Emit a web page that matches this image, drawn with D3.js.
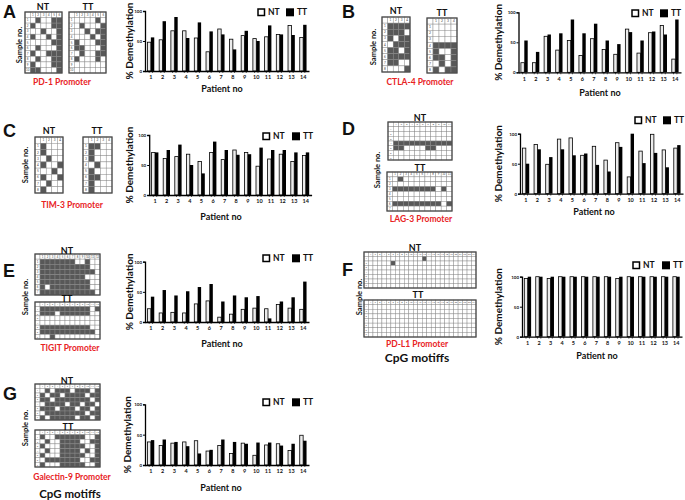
<!DOCTYPE html>
<html><head><meta charset="utf-8">
<script src="https://cdn.jsdelivr.net/npm/d3@7"></script>
<style>
body{margin:0;background:#fff}
svg{display:block}
text{font-family:Lato,'Open Sans',sans-serif;font-weight:bold;fill:#111}
</style>
</head><body>
<svg id="chart" width="685" height="500"></svg>
<script>
// ---------- DATA ----------
const patients = ["1","2","3","4","5","6","7","8","9","10","11","12","13","14"];
const yTicks = [0, 50, 100];
const seriesNames = ["NT", "TT"];

const pd1NT   = [48,52,67,67,55,32,70,53,59,54,57,61,76,56];
const pd1TT   = [56,83,90,55,81,66,61,36,67,50,76,61,60,77];
const ctla4NT = [16,16,60,37,53,28,56,38,30,72,32,66,78,22];
const ctla4TT = [53,34,63,65,88,65,81,53,47,67,53,68,63,88];
const tim3NT  = [71,61,64,68,56,71,59,75,71,48,60,68,56,66];
const tim3TT  = [71,75,84,50,36,89,75,67,68,79,75,75,71,71];
const lag3NT  = [76,82,49,91,93,64,79,56,85,28,71,99,73,76];
const lag3TT  = [50,74,61,74,64,67,48,37,78,100,51,68,44,81];
const tigitNT = [22,15,16,15,30,35,8,13,21,23,22,29,23,21];
const tigitTT = [42,53,44,51,58,63,34,44,41,43,6,34,41,67];
const pdl1NT  = [97,100,97,100,100,100,100,100,97,100,100,100,100,100];
const pdl1TT  = [100,100,100,100,100,100,100,100,100,100,100,100,100,100];
const gal9NT  = [38,32,36,38,40,23,32,19,36,16,33,35,24,49];
const gal9TT  = [41,42,38,31,19,25,42,38,35,37,37,32,35,40];

// methylation grids: rows = samples, chars = CpG motifs (1 = dark)
const gridPD1NT = ["010011","100011","001001","100101","000011","010001","100111","010011","100011","110001"];
const gridPD1TT = ["000010","010001","001011","000101","100011","110001","010011","100010","000000","000000"];
const gridCTLA4NT = ["1111","1110","1011","0111","1101","1111","1100","0001"];
const gridCTLA4TT = ["0000","0000","0000","1111","1001","1101","0101","1011"];
const gridTIM3NT = ["1000","1000","0100","1001","0010","1001","0100","1000"];
const gridTIM3TT = ["1100","1000","1000","0100","1000","1100","1000","1000"];
const gridLAG3NT = ["00000000000","00000000000","00000000000","11111111111","11000011000","00000000000","00000000000"];
const gridLAG3TT = ["01000000000","00000000000","11111111010","00000000000","00000000000","11111111101","00000000000"];
const gridTIGITNT = ["111111100100","111111111100","111111111110","111111111000","111111111100","101111111100","111111111110"];
const gridTIGITTT = ["111111111101","111011111100","000000000000","000000000000","111111111100","111111111110","001000000000"];
const gridPDL1NT = ["000000000000100000000000","000001000000000000000000","000000000000000000000000","000000000000000000000000","000000000000000000000000","000000000000000000000000","000000000000000000000000"];
const gridPDL1TT = ["000000000000000000000000","000000000000000000000000","000000000000000000000000","000000000000000000000000","000000000000000000000000","000000000000000000000000","000000000000000000000000"];
const gridGAL9NT = ["010111011101","101101111011","110111111101","011110110110","111011101101","011111111011","101111101101"];
const gridGAL9TT = ["100111111001","010011110011","100011111001","010011110101","100011111001","011111110011","100011111001"];

const panelLetters = ["A","B","C","D","E","F","G"];
const promoters = ["PD-1 Promoter","CTLA-4 Promoter","TIM-3 Promoter","LAG-3 Promoter","TIGIT Promoter","PD-L1 Promoter","Galectin-9 Promoter"];

// ---------- DRAW ----------
const svg = d3.select("#chart");
const RED = "#e8231f";

function txt(x, y, s, size, opts = {}) {
  const t = svg.append("text").attr("x", x).attr("y", y)
    .attr("text-anchor", opts.anchor || "middle")
    .attr("dominant-baseline", "central")
    .attr("font-size", size).text(s);
  if (opts.fill) t.style("fill", opts.fill);
  if (opts.rot) t.attr("transform", `rotate(-90,${x},${y})`);
  if (opts.family) t.style("font-family", opts.family);
  return t;
}

function drawBars(cfg) {
  const g = svg.append("g");
  const x = d3.scaleBand().domain(patients).range([cfg.xl, cfg.xr]);
  const y = d3.scaleLinear().domain([0, 100]).range([cfg.y0, cfg.y1]);
  const bw = 3.4;
  const c = p => x(p) + x.bandwidth() / 2;
  g.selectAll(".nt").data(cfg.nt).join("rect")
    .attr("x", (d, i) => c(patients[i]) - bw).attr("y", d => y(d))
    .attr("width", bw).attr("height", d => cfg.y0 - y(d))
    .attr("fill", "#ececec").attr("stroke", "#000").attr("stroke-width", 0.8);
  g.selectAll(".tt").data(cfg.tt).join("rect")
    .attr("x", (d, i) => c(patients[i])).attr("y", d => y(d))
    .attr("width", bw).attr("height", d => cfg.y0 - y(d))
    .attr("fill", "#000");
  const ya = g.append("g").attr("transform", `translate(${cfg.xl},0)`)
    .call(d3.axisLeft(y).tickValues(yTicks).tickSize(2).tickPadding(1));
  ya.select(".domain").attr("stroke-width", 1.3);
  ya.selectAll(".tick line").attr("stroke-width", 1);
  ya.selectAll(".tick text").attr("font-size", 4.5).style("font-family", "Lato,sans-serif").style("font-weight", "bold");
  const xa = g.append("g").attr("transform", `translate(0,${cfg.y0})`)
    .call(d3.axisBottom(x).tickSize(0).tickPadding(4.5).tickSizeOuter(0));
  xa.select(".domain").attr("stroke-width", 1.3);
  xa.selectAll(".tick text").attr("font-size", 5.5).style("font-family", "Lato,sans-serif").style("font-weight", "bold");
  const tk = [];
  patients.forEach(p => { tk.push(c(p) - 1.7); tk.push(c(p) + 1.7); });
  g.selectAll(".tk").data(tk).join("line")
    .attr("x1", d => d).attr("x2", d => d).attr("y1", cfg.y0).attr("y2", cfg.y0 + 2)
    .attr("stroke", "#000").attr("stroke-width", 0.6);
  txt(cfg.px, cfg.py, "Patient no", 9);
  txt(cfg.lx, (cfg.y0 + cfg.y1) / 2 + (cfg.ly || 0), "% Demethylation", 10, { rot: true });
  const L = cfg.leg;
  g.append("rect").attr("x", L[0]).attr("y", L[1]).attr("width", 6.5).attr("height", 6.5)
    .attr("fill", "#fff").attr("stroke", "#000").attr("stroke-width", 1.5);
  txt(L[0] + 10, L[1] + 3.3, seriesNames[0], 8.5, { anchor: "start" });
  g.append("rect").attr("x", L[2]).attr("y", L[1] - 0.7).attr("width", 8).attr("height", 8).attr("fill", "#000");
  txt(L[2] + 11, L[1] + 3.3, seriesNames[1], 8.5, { anchor: "start" });
}

function drawGrid(x0, y0, w, h, rows) {
  const g = svg.append("g");
  const nc = rows[0].length, nr = rows.length;
  const cx = d3.scaleBand().domain(d3.range(nc + 1)).range([x0, x0 + w]);
  const cy = d3.scaleBand().domain(d3.range(nr + 1)).range([y0, y0 + h]);
  const cells = [];
  for (let r = 0; r <= nr; r++) for (let k = 0; k <= nc; k++) {
    const v = (r > 0 && k > 0) ? rows[r - 1][k - 1] === "1" : false;
    cells.push({ r, k, v });
  }
  g.selectAll("rect").data(cells).join("rect")
    .attr("x", d => cx(d.k)).attr("y", d => cy(d.r))
    .attr("width", cx.bandwidth()).attr("height", cy.bandwidth())
    .attr("fill", d => d.v ? "#585858" : "#fff")
    .attr("stroke", "#8a8a8a").attr("stroke-width", 0.45);
  const fs = Math.min(cx.bandwidth(), cy.bandwidth()) * 0.55;
  g.selectAll(".hc").data(d3.range(1, nc + 1)).join("text")
    .attr("x", d => cx(d) + cx.bandwidth() / 2).attr("y", cy(0) + cy.bandwidth() / 2)
    .attr("text-anchor", "middle").attr("dominant-baseline", "central")
    .attr("font-size", fs).style("font-weight", "normal").style("fill", "#444").text(d => d);
  g.selectAll(".hr").data(d3.range(1, nr + 1)).join("text")
    .attr("x", cx(0) + cx.bandwidth() / 2).attr("y", d => cy(d) + cy.bandwidth() / 2)
    .attr("text-anchor", "middle").attr("dominant-baseline", "central")
    .attr("font-size", fs).style("font-weight", "normal").style("fill", "#444").text(d => d);
  g.append("rect").attr("x", x0).attr("y", y0).attr("width", w).attr("height", h)
    .attr("fill", "none").attr("stroke", "#4a4a4a").attr("stroke-width", 1.3);
}

// panel letters
const letterPos = [[3,12],[342,12],[3,131],[342,129],[3,271],[342,270],[3,394]];
panelLetters.forEach((l, i) => txt(letterPos[i][0], letterPos[i][1], l, 18, { anchor: "start", family: "'Liberation Sans',Arial,sans-serif" }));

// --- A: PD-1 ---
drawGrid(25, 12, 37, 61, gridPD1NT);
drawGrid(69, 12, 37, 61, gridPD1TT);
txt(43, 6, "NT", 9); txt(88, 6, "TT", 9);
txt(19, 45, "Sample no.", 7.5, { rot: true });
txt(62, 82, promoters[0], 8.5, { fill: RED });
drawBars({ nt: pd1NT, tt: pd1TT, xl: 145, xr: 309, y0: 71, y1: 11, px: 222, py: 88, lx: 129, leg: [258, 9, 286] });

// --- B: CTLA-4 ---
drawGrid(382, 17, 28, 55, gridCTLA4NT);
drawGrid(427, 18, 30, 55, gridCTLA4TT);
txt(396, 10, "NT", 9); txt(442, 12, "TT", 9);
txt(373, 47, "Sample no.", 7.5, { rot: true });
txt(420, 82, promoters[1], 8.5, { fill: RED });
drawBars({ nt: ctla4NT, tt: ctla4TT, xl: 518.5, xr: 681, y0: 72.3, y1: 12.3, px: 600, py: 92, lx: 498, leg: [632, 10, 660] });

// --- C: TIM-3 ---
drawGrid(35, 137, 28, 56, gridTIM3NT);
drawGrid(83, 137, 29, 56, gridTIM3TT);
txt(49, 130, "NT", 9); txt(97, 130, "TT", 9);
txt(25, 165, "Sample no.", 7.5, { rot: true });
txt(72, 205, promoters[2], 8.5, { fill: RED });
drawBars({ nt: tim3NT, tt: tim3TT, xl: 149.2, xr: 311.6, y0: 195, y1: 135, px: 221, py: 216, lx: 129, leg: [263, 133, 292] });

// --- D: LAG-3 ---
drawGrid(388, 122, 64, 38, gridLAG3NT);
drawGrid(387, 172, 65, 39, gridLAG3TT);
txt(420, 117, "NT", 9); txt(420, 167, "TT", 9);
txt(377, 170, "Sample no.", 7.5, { rot: true });
txt(421, 219, promoters[3], 8.5, { fill: RED });
drawBars({ nt: lag3NT, tt: lag3TT, xl: 520, xr: 683, y0: 193.7, y1: 133.7, px: 594, py: 211, lx: 498, leg: [635, 117, 663] });

// --- E: TIGIT ---
drawGrid(35, 254, 65, 41, gridTIGITNT);
drawGrid(35, 302, 65, 37, gridTIGITTT);
txt(67, 250, "NT", 9); txt(67, 298, "TT", 9);
txt(25, 297, "Sample no.", 7.5, { rot: true });
txt(70, 348, promoters[4], 8.5, { fill: RED });
drawBars({ nt: tigitNT, tt: tigitTT, xl: 145, xr: 309, y0: 322, y1: 261.7, px: 222, py: 343, lx: 129, leg: [263, 255, 292] });

// --- F: PD-L1 ---
drawGrid(364, 252, 112, 36, gridPDL1NT);
drawGrid(364, 300, 112, 37, gridPDL1TT);
txt(415, 247, "NT", 9); txt(418, 294, "TT", 9);
txt(359, 297, "Sample no.", 7.5, { rot: true });
txt(417, 344, promoters[5], 8.5, { fill: RED });
txt(417, 357, "CpG motiffs", 12);
drawBars({ nt: pdl1NT, tt: pdl1TT, xl: 522, xr: 682, y0: 336.7, y1: 276.7, px: 597, py: 355, lx: 498, leg: [633, 262, 662] });

// --- G: Galectin-9 ---
drawGrid(35, 384, 65, 36, gridGAL9NT);
drawGrid(35, 430, 65, 37, gridGAL9TT);
txt(67, 380, "NT", 9); txt(68, 426, "TT", 9);
txt(25, 428, "Sample no.", 7.5, { rot: true });
txt(72, 477, promoters[6], 8.5, { fill: RED });
txt(70, 493, "CpG motiffs", 11.5);
drawBars({ nt: gal9NT, tt: gal9TT, xl: 145, xr: 309, y0: 465, y1: 404.3, px: 221, py: 487, lx: 127, leg: [263, 399, 292] });
</script>
</body></html>
